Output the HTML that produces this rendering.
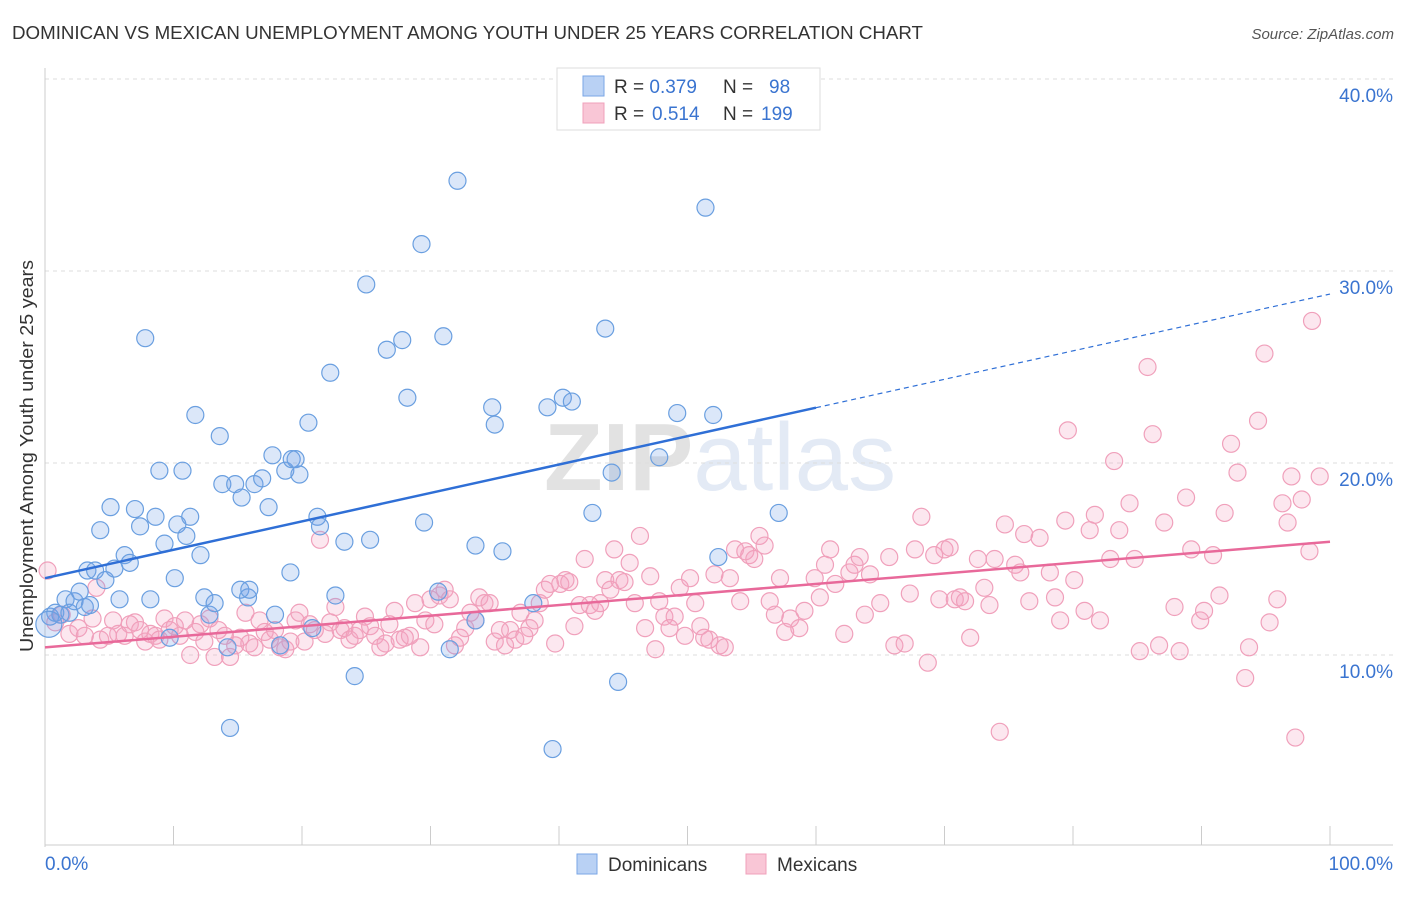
<!DOCTYPE html>
<html><head><meta charset="utf-8">
<style>
body{margin:0;background:#fff;font-family:"Liberation Sans",sans-serif;}
svg text{font-family:"Liberation Sans",sans-serif;}
</style></head>
<body>
<svg id="chart" width="1406" height="892" xmlns="http://www.w3.org/2000/svg">
<text x="12" y="39" font-size="18" fill="#333" textLength="911" lengthAdjust="spacingAndGlyphs">DOMINICAN VS MEXICAN UNEMPLOYMENT AMONG YOUTH UNDER 25 YEARS CORRELATION CHART</text>
<text x="1394" y="39" font-size="15" fill="#555" font-style="italic" text-anchor="end">Source: ZipAtlas.com</text>
<text x="720" y="490" font-size="96" fill="#e4e4e4" text-anchor="middle" font-family="Liberation Serif"><tspan font-weight="bold" fill="#e2e2e2">ZIP</tspan><tspan fill="#e3eaf5" font-family="Liberation Sans">atlas</tspan></text>
<g id="grid"></g>
<g id="marks"></g>
<text transform="translate(33,456) rotate(-90)" font-size="18" fill="#333" text-anchor="middle" textLength="392" lengthAdjust="spacingAndGlyphs">Unemployment Among Youth under 25 years</text>
<g>
<rect x="557" y="68" width="263" height="62" fill="#fff" stroke="#ddd"/>
<rect x="583" y="76" width="21" height="20" fill="#b9d1f4" stroke="#7aa6e6"/>
<rect x="583" y="103" width="21" height="20" fill="#f9c6d6" stroke="#f0a0bb"/>
<text x="614" y="93" font-size="19" fill="#333">R = <tspan fill="#3a74d0">0.379</tspan><tspan x="723">N = </tspan><tspan x="769" fill="#3a74d0">98</tspan></text>
<text x="614" y="120" font-size="19" fill="#333">R = <tspan x="652" fill="#3a74d0">0.514</tspan><tspan x="723">N = </tspan><tspan x="761" fill="#3a74d0">199</tspan></text>
</g>
<g>
<rect x="577" y="854" width="20" height="20" fill="#b9d1f4" stroke="#7aa6e6"/>
<text x="608" y="871" font-size="19" fill="#333">Dominicans</text>
<rect x="746" y="854" width="20" height="20" fill="#f9c6d6" stroke="#f0a0bb"/>
<text x="777" y="871" font-size="19" fill="#333">Mexicans</text>
</g>
</svg>
<script>
const yTicks=[10,20,30,40];
const yTickLabels=["10.0%","20.0%","30.0%","40.0%"];
const xTicks=[0,10,20,30,40,50,60,70,80,90,100];
const blueX=[0.4,0.8,1.2,1.6,1.9,2.3,2.7,3.1,3.5,3.3,3.9,4.3,4.7,5.1,5.4,5.8,6.2,6.6,7.0,7.4,7.8,8.2,8.6,8.9,9.3,9.7,10.1,10.3,10.7,11.0,11.3,11.7,12.1,12.4,12.8,13.2,13.6,13.8,14.2,14.4,14.8,15.2,15.3,15.8,15.9,16.3,16.9,17.4,17.7,17.9,18.3,18.7,19.1,19.2,19.5,19.8,20.5,20.8,21.2,21.4,22.2,22.6,23.3,24.1,25.0,25.3,26.6,27.8,28.2,29.3,29.5,31.0,30.6,31.5,32.1,33.5,33.5,34.8,35.0,35.6,38.0,39.1,39.5,40.3,41.0,42.6,43.6,44.1,44.6,47.8,49.2,51.4,52.0,52.4,57.1,0.3];
const blueY=[12.0,12.2,12.1,12.9,12.2,12.8,13.3,12.5,12.6,14.4,14.4,16.5,13.9,17.7,14.5,12.9,15.2,14.8,17.6,16.7,26.5,12.9,17.2,19.6,15.8,10.9,14.0,16.8,19.6,16.2,17.2,22.5,15.2,13.0,12.1,12.7,21.4,18.9,10.4,6.2,18.9,13.4,18.2,13.0,13.4,18.9,19.2,17.7,20.4,12.1,10.5,19.6,14.3,20.2,20.2,19.4,22.1,11.4,17.2,16.7,24.7,13.1,15.9,8.9,29.3,16.0,25.9,26.4,23.4,31.4,16.9,26.6,13.3,10.3,34.7,11.8,15.7,22.9,22.0,15.4,12.7,22.9,5.1,23.4,23.2,17.4,27.0,19.5,8.6,20.3,22.6,33.3,22.5,15.1,17.4,11.6];
const pinkX=[0.2,0.8,1.3,1.9,2.6,3.1,3.7,4.0,4.3,4.9,5.3,5.7,6.2,6.6,7.0,7.4,7.8,8.2,8.6,8.9,9.3,9.7,10.1,10.5,10.9,11.3,11.7,12.1,12.4,12.8,13.2,13.5,14.0,14.4,14.8,15.2,15.6,15.9,16.3,16.7,17.1,17.5,17.9,18.3,18.7,19.1,19.5,19.8,20.2,20.6,21.0,21.4,21.8,22.2,22.6,23.0,23.3,23.7,24.1,24.5,24.9,25.3,25.7,26.1,26.5,26.8,27.2,27.6,28.0,28.4,28.8,29.2,29.6,30.0,30.3,30.7,31.1,31.5,31.9,32.3,32.7,33.1,33.5,33.8,34.2,34.6,35.0,35.4,35.8,36.2,36.6,37.0,37.3,37.7,38.1,38.5,38.9,39.3,39.7,40.1,40.5,40.8,41.2,41.6,42.0,42.4,42.8,43.2,43.6,44.0,44.3,44.7,45.1,45.5,45.9,46.3,46.7,47.1,47.5,47.8,48.2,48.6,49.0,49.4,49.8,50.2,50.6,51.0,51.3,51.7,52.1,52.5,52.9,53.3,53.7,54.1,54.5,54.8,55.2,55.6,56.0,56.4,56.8,57.2,57.6,58.0,58.7,59.1,59.9,60.3,60.7,61.1,61.5,62.2,62.6,63.0,63.4,63.8,64.2,65.0,65.7,66.1,66.9,67.3,67.7,68.2,68.7,69.2,69.6,70.0,70.4,70.8,71.2,71.6,72.0,72.6,73.1,73.5,73.9,74.3,74.7,75.5,75.9,76.2,76.6,77.4,78.2,78.6,79.0,79.4,79.6,80.1,80.9,81.3,81.7,82.1,82.9,83.2,83.6,84.4,84.8,85.2,85.8,86.2,86.7,87.1,87.9,88.3,88.8,89.2,89.9,90.2,90.9,91.4,91.8,92.3,92.8,93.4,93.7,94.4,94.9,95.3,95.9,96.3,96.7,97.0,97.3,97.8,98.4,98.6,99.2];
const pinkY=[14.4,11.7,12.1,11.1,11.4,11.0,11.9,13.5,10.8,11.0,11.8,11.1,11.0,11.6,11.7,11.3,10.7,11.1,11.0,10.8,11.9,11.3,11.5,11.0,11.8,10.0,11.2,11.6,10.7,11.9,9.9,11.3,11.0,9.9,10.5,10.9,12.2,10.6,10.4,11.8,11.2,10.8,11.3,10.4,10.3,10.7,11.8,12.2,10.7,11.6,11.3,16.0,11.1,11.7,12.5,11.3,11.4,10.8,11.0,11.3,12.0,11.5,11.0,10.4,10.6,11.6,12.3,10.8,10.9,11.0,12.7,10.4,11.8,12.9,11.6,13.1,13.4,12.9,10.5,10.9,11.4,12.2,11.8,13.0,12.7,12.7,10.7,11.3,10.5,11.3,10.8,12.2,11.0,11.4,11.8,12.7,13.4,13.7,10.6,13.7,13.9,13.8,11.5,12.6,15.0,12.6,12.3,12.7,13.9,13.4,15.5,13.9,13.8,14.8,12.7,16.2,11.4,14.1,10.3,12.8,12.0,11.4,12.0,13.5,11.0,14.0,12.7,11.5,10.9,10.8,14.2,10.5,10.4,14.0,15.5,12.8,15.4,15.2,15.0,16.2,15.7,12.8,12.1,14.0,11.2,11.9,11.4,12.3,14.0,13.0,14.7,15.5,13.7,11.1,14.3,14.7,15.1,12.1,14.2,12.7,15.1,10.5,10.6,13.2,15.5,17.2,9.6,15.2,12.9,15.5,15.6,12.9,13.0,12.8,10.9,15.0,13.5,12.6,15.0,6.0,16.8,14.7,14.3,16.3,12.8,16.1,14.3,13.0,11.8,17.0,21.7,13.9,12.3,16.5,17.3,11.8,15.0,20.1,16.5,17.9,15.0,10.2,25.0,21.5,10.5,16.9,12.5,10.2,18.2,15.5,11.8,12.3,15.2,13.1,17.4,21.0,19.5,8.8,10.4,22.2,25.7,11.7,12.9,17.9,16.9,19.3,5.7,18.1,15.4,27.4,19.3];
const blueTrend=[14.0,28.8];
const pinkTrend=[10.4,15.9];

const X0=45,X1=1330,Y0=847,PXY=19.2;
const sx=v=>X0+(X1-X0)*v/100;
const sy=v=>Y0-v*PXY;
const NS="http://www.w3.org/2000/svg";
function mk(tag,attrs,parent){const e=document.createElementNS(NS,tag);for(const k in attrs)e.setAttribute(k,attrs[k]);parent.appendChild(e);return e;}
const grid=document.getElementById('grid'),marks=document.getElementById('marks');
yTicks.forEach((t,i)=>{
  const l=mk('line',{x1:X0,x2:1393,y1:sy(t),y2:sy(t),stroke:'#ddd','stroke-dasharray':'4,4'},grid);
  
  
  const tx=mk('text',{x:1393,y:sy(t)+23,'font-size':19,fill:'#3a74d0','text-anchor':'end'},grid);
  tx.textContent=yTickLabels[i];
  
  
});
const ax=mk('line',{x1:X0,x2:X0,y1:68,y2:Y0,stroke:'#ccc'},grid);


const bx=mk('line',{x1:X0,x2:1393,y1:Y0-2,y2:Y0-2,stroke:'#ccc'},grid);


xTicks.forEach(t=>{
  const l=mk('line',{x1:sx(t),x2:sx(t),y1:826,y2:845,stroke:'#ccc'},grid);
  
  
});
const xl0=mk('text',{x:45,y:870,'font-size':19,fill:'#3a74d0'},grid);xl0.textContent='0.0%';


const xl1=mk('text',{x:1393,y:870,'font-size':19,fill:'#3a74d0','text-anchor':'end'},grid);xl1.textContent='100.0%';



pinkX.forEach((x,i)=>{
  const c=mk('circle',{cx:sx(x),cy:sy(pinkY[i]),r:8.5,fill:'rgba(244,160,190,0.25)',stroke:'#f0a0bb','stroke-width':1.2},marks);
  
  
});
blueX.forEach((x,i)=>{
  const c=mk('circle',{cx:sx(x),cy:sy(blueY[i]),r:(i==blueX.length-1?13:8.5),fill:'rgba(110,160,230,0.25)',stroke:'#6a9fe0','stroke-width':1.2},marks);
  
  
});
const bAt=x=>blueTrend[0]+(blueTrend[1]-blueTrend[0])*x/100;
const t1=mk('line',{x1:sx(0),y1:sy(bAt(0)),x2:sx(60),y2:sy(bAt(60)),stroke:'#2f6fd6','stroke-width':2.5},marks);


const t2=mk('line',{x1:sx(60),y1:sy(bAt(60)),x2:sx(100),y2:sy(bAt(100)),stroke:'#2f6fd6','stroke-width':1.2,'stroke-dasharray':'5,4'},marks);


const t3=mk('line',{x1:sx(0),y1:sy(pinkTrend[0]),x2:sx(100),y2:sy(pinkTrend[1]),stroke:'#e8699a','stroke-width':2.5},marks);


</script>
</body></html>
